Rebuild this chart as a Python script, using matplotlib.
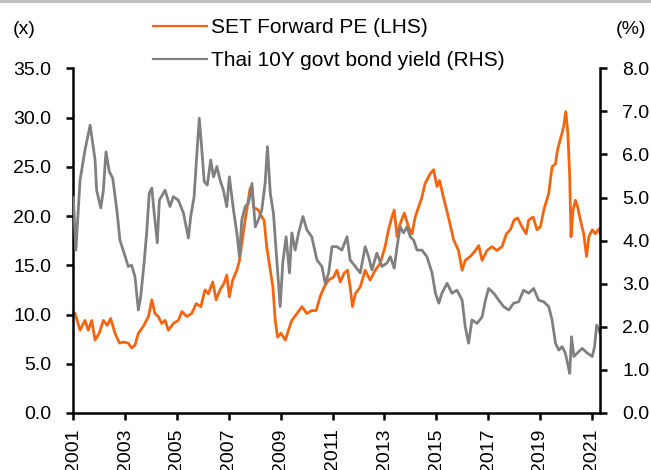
import matplotlib
matplotlib.use('Agg')
import matplotlib.pyplot as plt
from matplotlib.lines import Line2D

plt.rcParams['font.family'] = ['Liberation Sans', 'DejaVu Sans']

# SET forward PE (x)
pe_years = [2001.07, 2001.26, 2001.45, 2001.58, 2001.71, 2001.84, 2002.0, 2002.16, 2002.31,
            2002.44, 2002.61, 2002.78, 2002.93, 2003.12, 2003.25, 2003.38, 2003.51, 2003.7,
            2003.9, 2004.03, 2004.15, 2004.28, 2004.41, 2004.54, 2004.67, 2004.86, 2005.05,
            2005.19, 2005.38, 2005.57, 2005.74, 2005.92, 2006.08, 2006.21, 2006.38, 2006.51,
            2006.66, 2006.82, 2006.92, 2007.02, 2007.15, 2007.31, 2007.41, 2007.5, 2007.59,
            2007.69, 2007.82, 2007.89, 2007.95, 2008.14, 2008.27, 2008.36, 2008.46, 2008.6,
            2008.7, 2008.79, 2008.88, 2009.01, 2009.18, 2009.3, 2009.43, 2009.63, 2009.82,
            2010.01, 2010.2, 2010.37, 2010.52, 2010.68, 2010.85, 2011.04, 2011.17, 2011.3,
            2011.45, 2011.58, 2011.68, 2011.77, 2011.88, 2012.07, 2012.26, 2012.45, 2012.65,
            2012.84, 2013.03, 2013.16, 2013.29, 2013.38, 2013.49, 2013.61, 2013.77, 2013.93,
            2014.07, 2014.19, 2014.32, 2014.45, 2014.57, 2014.77, 2014.9, 2015.03, 2015.13,
            2015.28, 2015.47, 2015.67, 2015.86, 2016.0, 2016.12, 2016.32, 2016.51, 2016.64,
            2016.77, 2016.96, 2017.15, 2017.34, 2017.54, 2017.71, 2017.86, 2018.01, 2018.14,
            2018.31, 2018.47, 2018.57, 2018.74, 2018.89, 2019.02, 2019.15, 2019.34, 2019.47,
            2019.6, 2019.68, 2019.81, 2019.91, 2020.0, 2020.08, 2020.15, 2020.2, 2020.28,
            2020.37, 2020.46, 2020.56, 2020.69, 2020.8, 2020.89, 2021.02, 2021.14, 2021.28,
            2021.32]
pe_values = [10.1, 8.4, 9.4, 8.4, 9.4, 7.4, 8.1, 9.4, 8.9,
             9.6, 8.1, 7.1, 7.2, 7.1, 6.6, 6.9, 8.1, 8.8,
             9.8, 11.5, 10.1, 9.8, 9.1, 9.4, 8.4, 9.1, 9.4,
             10.3, 9.8, 10.1, 11.1, 10.8, 12.5, 12.1, 13.3, 11.5,
             12.5, 13.2, 14.0, 11.8, 13.5, 14.5, 15.5, 17.2, 18.9,
             20.6, 22.8, 23.0, 20.9, 20.6, 19.9, 19.6, 16.9, 14.5,
             12.8, 9.4, 7.7, 8.1, 7.4, 8.4, 9.4, 10.1, 10.8,
             10.1, 10.4, 10.4, 11.8, 12.8, 13.5, 13.8, 14.5, 13.3,
             14.2, 14.5, 12.8, 10.8, 12.1, 12.8, 14.5, 13.5, 14.5,
             15.2, 16.9, 18.6, 19.9, 20.6, 17.9, 19.2, 20.3, 18.9,
             18.2, 19.9, 20.9, 21.9, 23.3, 24.3, 24.7, 23.0, 23.6,
             21.9, 19.9, 17.6, 16.5, 14.5, 15.5, 15.9, 16.5, 17.0,
             15.5, 16.5, 16.9, 16.5, 16.9, 18.2, 18.6, 19.6, 19.8,
             18.9, 18.2, 19.6, 19.9, 18.6, 18.9, 20.6, 22.3, 25.0,
             25.3, 26.7, 28.0, 29.0, 30.6, 28.4, 24.0, 17.9, 20.6,
             21.6, 20.9, 19.6, 18.2, 15.9, 17.9, 18.6, 18.2, 18.7,
             18.2]

# Thai 10Y government bond yield (%)
bond_years = [2001.0, 2001.1, 2001.26, 2001.45, 2001.65, 2001.84, 2001.9, 2002.06, 2002.16,
              2002.26, 2002.39, 2002.52, 2002.68, 2002.8, 2002.96, 2003.12, 2003.25, 2003.38,
              2003.51, 2003.6, 2003.73, 2003.83, 2003.93, 2004.03, 2004.12, 2004.24, 2004.32,
              2004.54, 2004.73, 2004.86, 2005.05, 2005.25, 2005.44, 2005.53, 2005.66, 2005.76,
              2005.86, 2005.96, 2006.05, 2006.17, 2006.3, 2006.41, 2006.54, 2006.66, 2006.79,
              2006.92, 2007.02, 2007.18, 2007.31, 2007.41, 2007.5, 2007.63, 2007.76, 2007.89,
              2008.02, 2008.14, 2008.27, 2008.4, 2008.49, 2008.6, 2008.72, 2008.85, 2008.98,
              2009.08, 2009.21, 2009.34, 2009.43, 2009.56, 2009.69, 2009.86, 2010.01, 2010.2,
              2010.4, 2010.59, 2010.72, 2010.85, 2010.98, 2011.17, 2011.36, 2011.56, 2011.68,
              2011.88, 2012.07, 2012.26, 2012.39, 2012.52, 2012.71, 2012.91, 2013.1, 2013.23,
              2013.38, 2013.49, 2013.61, 2013.74, 2013.87, 2014.0, 2014.13, 2014.26, 2014.45,
              2014.64, 2014.84, 2014.97, 2015.1, 2015.22, 2015.42, 2015.61, 2015.8, 2016.0,
              2016.12, 2016.25, 2016.38, 2016.58, 2016.77, 2016.9, 2017.02, 2017.22, 2017.41,
              2017.6, 2017.8, 2017.99, 2018.18, 2018.37, 2018.57, 2018.76, 2018.95, 2019.15,
              2019.34, 2019.47, 2019.6, 2019.73, 2019.86, 2019.98, 2020.07, 2020.15, 2020.22,
              2020.31, 2020.44, 2020.63, 2020.83, 2021.02, 2021.11, 2021.19, 2021.28, 2021.32]
bond_values = [5.0, 3.78, 5.4, 6.1, 6.68, 5.87, 5.17, 4.76, 5.17,
               6.06, 5.6, 5.45, 4.71, 4.01, 3.71, 3.4, 3.43, 3.16,
               2.39, 2.7, 3.48, 4.18, 5.1, 5.22, 4.64, 3.95, 4.94,
               5.17, 4.79, 5.02, 4.94, 4.64, 4.06, 4.56, 5.02, 5.95,
               6.84, 6.1, 5.37, 5.29, 5.87, 5.48, 5.72, 5.41, 5.17,
               4.79, 5.48, 4.71, 4.18, 3.63, 4.48, 4.79, 4.87, 5.33,
               4.32, 4.48, 4.71, 5.33, 6.18, 5.1, 4.64, 3.55, 2.47,
               3.48, 4.09, 3.25, 4.18, 3.78, 4.18, 4.56, 4.25, 4.09,
               3.55, 3.4, 3.01, 3.25, 3.86, 3.86, 3.78, 4.09, 3.55,
               3.4, 3.25, 3.86, 3.63, 3.32, 3.71, 3.4, 3.48, 3.63,
               3.36, 3.86, 4.32, 4.18, 4.32, 4.09, 4.01, 3.78, 3.78,
               3.63, 3.25, 2.78, 2.55, 2.78, 3.01, 2.78, 2.85, 2.62,
               2.0, 1.62, 2.16, 2.08, 2.23, 2.62, 2.89, 2.78, 2.62,
               2.47, 2.39, 2.55, 2.58, 2.85, 2.78, 2.89, 2.62, 2.58,
               2.47, 2.16, 1.62, 1.46, 1.54, 1.39, 1.15, 0.92, 1.77,
               1.31, 1.39, 1.5, 1.39, 1.31, 1.54, 2.04, 1.93, 1.85]

x_ticks = list(range(2001, 2022, 2))
pe_ticks = [0, 5, 10, 15, 20, 25, 30, 35]
bond_ticks = [0, 1, 2, 3, 4, 5, 6, 7, 8]

ORANGE = '#F5650F'
GREY = '#808080'
FS = 14

fig = plt.figure(figsize=(6.51, 4.70), dpi=100)
ax = fig.add_axes([0.1126, 0.1213, 0.8091, 0.7334])
ax2 = ax.twinx()

ax.plot(pe_years, pe_values, color=ORANGE, lw=2.0)
ax2.plot(bond_years, bond_values, color=GREY, lw=2.0)

ax.set_xlim(2001, 2021.32)
ax.set_ylim(0, 35)
ax2.set_ylim(0, 8)

ax.set_xticks(x_ticks)
ax.set_xticklabels([str(y) for y in x_ticks], rotation=90)
ax.set_yticks(pe_ticks)
ax.set_yticklabels([f'{v:.1f}' for v in pe_ticks])
ax2.set_yticks(bond_ticks)
ax2.set_yticklabels([f'{v:.1f}' for v in bond_ticks])

for a in (ax, ax2):
    a.spines['top'].set_visible(False)
    for s in a.spines.values():
        s.set_linewidth(1.8)
ax.spines['right'].set_visible(False)
ax2.spines['left'].set_visible(False)
ax2.spines['bottom'].set_visible(False)

ax.tick_params(axis='y', direction='out', length=5, width=1.8, pad=11, labelsize=FS)
ax.tick_params(axis='x', direction='out', length=5, width=1.8, pad=6, labelsize=FS)
ax2.tick_params(axis='y', direction='out', length=5, width=1.8, pad=11, labelsize=FS)

fig.text(24 / 651, 1 - 30 / 470, '(x)', fontsize=FS, ha='center', va='center')
fig.text(631 / 651, 1 - 30 / 470, '(%)', fontsize=FS, ha='center', va='center')

handles = [Line2D([], [], color=ORANGE, lw=1.6), Line2D([], [], color=GREY, lw=1.6)]
fig.legend(handles, ['SET Forward PE (LHS)', 'Thai 10Y govt bond yield (RHS)'],
           loc='upper left', bbox_to_anchor=(153 / 651, 1 - 18 / 470), frameon=False,
           fontsize=15, handlelength=2.6, handletextpad=0.2, labelspacing=0.68,
           borderpad=0, borderaxespad=0)

# thin grey band at the very top
fig.add_artist(plt.Rectangle((0, 1 - 2.5 / 470), 1, 2.5 / 470, transform=fig.transFigure,
                             color='#C0C0C0', lw=0))

fig.savefig('out.png', dpi=100)
